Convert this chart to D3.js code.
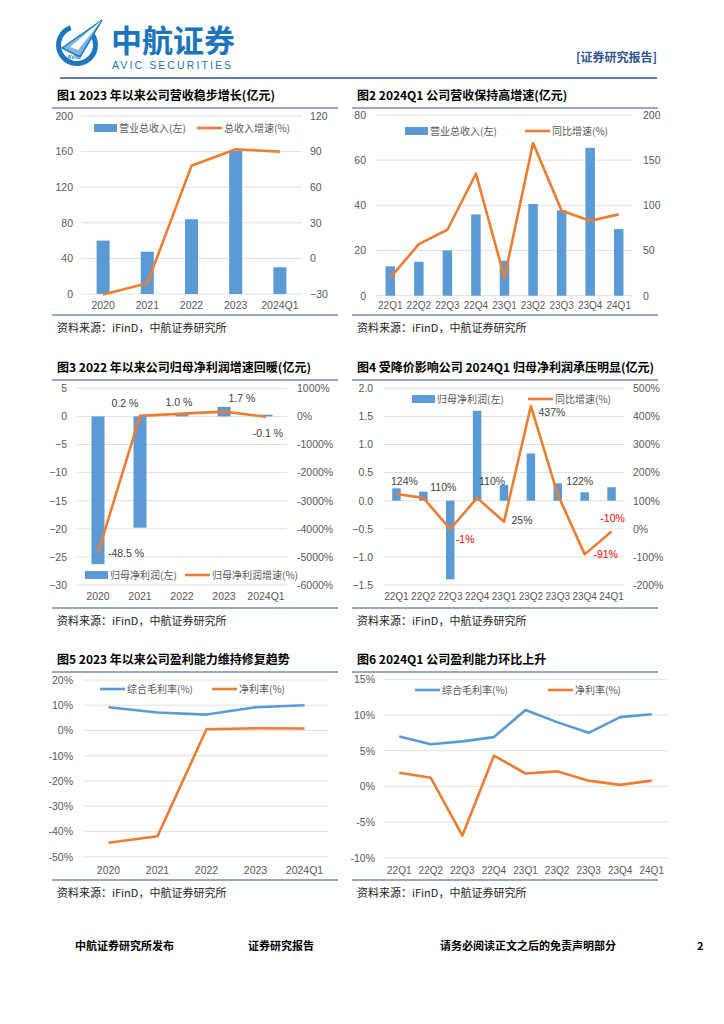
<!DOCTYPE html>
<meta charset="utf-8">
<style>
body { margin: 0; background: white; }
text { font-family: "Liberation Sans", Arial, sans-serif; }
.cn { font-family: "Noto Sans CJK SC", sans-serif; }
</style>
<body>
<script src="https://cdn.jsdelivr.net/npm/d3@7"></script>
<script>
// --- data ---
var years = ['2020', '2021', '2022', '2023', '2024Q1']
var quarters = ['22Q1', '22Q2', '22Q3', '22Q4', '23Q1', '23Q2', '23Q3', '23Q4', '24Q1']

var revenueYear = [60, 47.5, 84, 161, 30]
var revenueYearGrowth = [-30.5, -21, 78, 92, 90]

var revenueQtr = [13, 15, 20, 36, 15.5, 40.6, 37.8, 65.5, 29.5]
var revenueQtrGrowth = [20, 57, 73, 135, 20, 169, 94, 83, 90]

var profitYear = [-26.3, -19.8, 0.4, 1.7, 0.3]
var profitYearGrowth = [-4850, 20, 100, 170, -10]
var profitYearLabels = ['-48.5 %', '0.2 %', '1.0 %', '1.7 %', '-0.1 %']

var profitQtr = [0.22, 0.16, -1.4, 1.6, 0.28, 0.84, 0.31, 0.15, 0.24]
var profitQtrGrowth = [124, 110, -1, 110, 25, 437, 122, -91, -10]

var grossYear = [9.2, 7.1, 6.3, 9.2, 10.0]
var netYear = [-44.5, -41.9, 0.5, 0.9, 0.8]

var grossQtr = [7.0, 5.9, 6.3, 6.9, 10.7, 9.0, 7.5, 9.7, 10.1]
var netQtr = [1.9, 1.2, -6.9, 4.3, 1.8, 2.1, 0.8, 0.2, 0.8]

var blue = '#5b9bd5'
var orange = '#ed7d31'
var navy = '#2f5597'
var tickGrey = '#595959'

var svg = d3.select('body').append('svg')
    .attr('width', 724)
    .attr('height', 1024)

// --- header ---
var logo = svg.append('g')
logo.append('path')
    .attr('transform', 'translate(77,45)')
    .attr('d', d3.arc().innerRadius(16).outerRadius(21).startAngle(0.9).endAngle(2 * Math.PI - 0.35)())
    .attr('fill', '#1a78c2')
logo.append('path')
    .attr('d', 'M62,48 L102,20 L80,57 Z')
    .attr('fill', '#7fb6e0')
    .attr('stroke', '#1a78c2')
    .attr('stroke-width', 1.5)
logo.append('path')
    .attr('d', 'M70,47 L102,20 L78,50 Z')
    .attr('fill', 'white')
logo.append('text')
    .attr('x', 74).attr('y', 59)
    .attr('text-anchor', 'middle')
    .attr('font-size', 6).attr('font-weight', 'bold')
    .attr('fill', '#1a78c2')
    .text('AVIC')

svg.append('text').attr('class', 'cn')
    .attr('x', 111).attr('y', 52)
    .attr('font-size', 31).attr('font-weight', 'bold')
    .attr('fill', '#1b75bc')
    .text('中航证券')
svg.append('text')
    .attr('x', 112).attr('y', 69)
    .attr('font-size', 10.5)
    .attr('letter-spacing', 2.1)
    .attr('fill', '#1b75bc')
    .text('AVIC SECURITIES')
svg.append('text').attr('class', 'cn')
    .attr('x', 657).attr('y', 62)
    .attr('text-anchor', 'end')
    .attr('font-size', 12).attr('font-weight', 'bold')
    .attr('fill', navy)
    .text('[证券研究报告]')
svg.append('line')
    .attr('x1', 60).attr('x2', 657).attr('y1', 78).attr('y2', 78)
    .attr('stroke', navy).attr('stroke-width', 1.5)

// --- panel frames ---
function frame(x0, x1, titleY, bottomY, title) {
    svg.append('text').attr('class', 'cn')
        .attr('x', x0 + 5).attr('y', titleY)
        .attr('font-size', 12).attr('font-weight', 'bold')
        .text(title)
    svg.append('line')
        .attr('x1', x0).attr('x2', x1).attr('y1', titleY + 8).attr('y2', titleY + 8)
        .attr('stroke', navy).attr('stroke-width', 1.2)
    svg.append('line')
        .attr('x1', x0).attr('x2', x1).attr('y1', bottomY).attr('y2', bottomY)
        .attr('stroke', navy).attr('stroke-width', 1.2)
    svg.append('text').attr('class', 'cn')
        .attr('x', x0 + 5).attr('y', bottomY + 17)
        .attr('font-size', 11).attr('fill', '#222')
        .text('资料来源：iFinD，中航证券研究所')
}

function panel(o) {
    var g = svg.append('g')
    var x = d3.scaleBand().domain(o.cats).range(o.xr)
    var cx = function (d, i) { return x(o.cats[i]) + x.bandwidth() / 2 }
    var yl = d3.scaleLinear().domain(o.ld).range(o.yr)
    var yr = o.rd ? d3.scaleLinear().domain(o.rd).range(o.yr) : null

    g.selectAll('.grid').data(o.lt).enter().append('line')
        .attr('x1', o.xr[0]).attr('x2', o.xr[1])
        .attr('y1', yl).attr('y2', yl)
        .attr('stroke', '#d9d9d9').attr('stroke-width', 0.8)

    g.append('g')
        .attr('transform', 'translate(' + o.lx + ',0)')
        .call(d3.axisLeft(yl).tickValues(o.lt).tickSize(0).tickPadding(0).tickFormat(o.lf))
    if (yr) {
        g.append('g')
            .attr('transform', 'translate(' + o.rx + ',0)')
            .call(d3.axisRight(yr).tickValues(o.rt).tickSize(0).tickPadding(0).tickFormat(o.rf))
    }
    g.selectAll('.tick text').attr('font-size', 10.5).attr('fill', tickGrey)
    g.append('g')
        .attr('transform', 'translate(0,' + o.xy + ')')
        .call(d3.axisBottom(x).tickSize(0).tickPadding(0))
        .selectAll('.tick text').attr('font-size', o.cats.length > 5 ? 10 : 10.5).attr('fill', tickGrey)
    g.selectAll('.domain').remove()

    if (o.bars) {
        g.selectAll('.bar').data(o.bars).enter().append('rect')
            .attr('x', function (d, i) { return cx(d, i) - o.bw / 2 })
            .attr('y', function (d) { return yl(Math.max(0, d)) })
            .attr('width', o.bw)
            .attr('height', function (d) { return Math.abs(yl(d) - yl(0)) })
            .attr('fill', blue)
    }

    o.lines.forEach(function (l) {
        var sc = l.right ? yr : yl
        g.append('path').datum(l.v)
            .attr('d', d3.line().x(cx).y(function (d) { return sc(d) }))
            .attr('fill', 'none')
            .attr('stroke', l.color)
            .attr('stroke-width', 2.6)
            .attr('stroke-linejoin', 'round')
    })

    // legend
    o.legend.forEach(function (e) {
        if (e.bar) {
            g.append('rect').attr('x', e.x).attr('y', o.ly - 4).attr('width', 23).attr('height', 8).attr('fill', blue)
        } else {
            g.append('line').attr('x1', e.x).attr('x2', e.x + 25).attr('y1', o.ly).attr('y2', o.ly)
                .attr('stroke', e.color).attr('stroke-width', 2.6)
        }
        g.append('text').attr('class', 'cn')
            .attr('x', e.x + (e.bar ? 25 : 27)).attr('y', o.ly + 4)
            .attr('font-size', 10).attr('fill', tickGrey)
            .text(e.text)
    })

    return { x: x, cx: cx, yl: yl, yr: yr, g: g }
}

// --- figure 1 ---
frame(52, 338, 100, 315, '图1  2023 年以来公司营收稳步增长(亿元)')
panel({
    cats: years, xr: [81, 302], yr: [294, 116],
    ld: [0, 200], lt: d3.range(0, 201, 40), lf: d3.format('d'), lx: 73,
    rd: [-30, 120], rt: d3.range(-30, 121, 30), rf: d3.format('d'), rx: 310,
    xy: 302, bars: revenueYear, bw: 13,
    lines: [{ v: revenueYearGrowth, color: orange, right: true }],
    ly: 128,
    legend: [{ bar: true, x: 94, text: '营业总收入(左)' }, { x: 197, color: orange, text: '总收入增速(%)' }]
})

// --- figure 2 ---
frame(352, 658, 100, 315, '图2  2024Q1 公司营收保持高增速(亿元)')
panel({
    cats: quarters, xr: [376, 633], yr: [295.7, 115],
    ld: [0, 80], lt: d3.range(0, 81, 20), lf: d3.format('d'), lx: 366,
    rd: [0, 200], rt: d3.range(0, 201, 50), rf: d3.format('d'), rx: 643,
    xy: 302, bars: revenueQtr, bw: 9.5,
    lines: [{ v: revenueQtrGrowth, color: orange, right: true }],
    ly: 131,
    legend: [{ bar: true, x: 405, text: '营业总收入(左)' }, { x: 525, color: orange, text: '同比增速(%)' }]
})

// --- figure 3 ---
frame(52, 338, 372, 608, '图3  2022 年以来公司归母净利润增速回暖(亿元)')
var p3 = panel({
    cats: years, xr: [77, 287], yr: [585, 388.3],
    ld: [-30, 5], lt: d3.range(-30, 6, 5), lf: d3.format('d'), lx: 67,
    rd: [-6000, 1000], rt: d3.range(-6000, 1001, 1000), rf: function (d) { return d + '%' }, rx: 297,
    xy: 593, bars: profitYear, bw: 13,
    lines: [{ v: profitYearGrowth, color: orange, right: true }],
    ly: 575,
    legend: [{ bar: true, x: 85, text: '归母净利润(左)' }, { x: 185, color: orange, text: '归母净利润增速(%)' }]
})
var off3 = [[28, 4], [-15, -9], [-3, -8], [18, -10], [2, 20]]
p3.g.selectAll('.lab').data(profitYearGrowth).enter().append('text')
    .attr('x', function (d, i) { return p3.cx(d, i) + off3[i][0] })
    .attr('y', function (d, i) { return p3.yr(d) + off3[i][1] })
    .attr('text-anchor', 'middle')
    .attr('font-size', 10.5).attr('fill', '#404040')
    .text(function (d, i) { return profitYearLabels[i] })

// --- figure 4 ---
frame(352, 658, 372, 608, '图4  受降价影响公司 2024Q1 归母净利润承压明显(亿元)')
var p4 = panel({
    cats: quarters, xr: [383, 625], yr: [585, 388.3],
    ld: [-1.5, 2], lt: d3.range(-1.5, 2.01, 0.5), lf: d3.format('.1f'), lx: 373,
    rd: [-200, 500], rt: d3.range(-200, 501, 100), rf: function (d) { return d + '%' }, rx: 633,
    xy: 593, bars: profitQtr, bw: 8.5,
    lines: [{ v: profitQtrGrowth, color: orange, right: true }],
    ly: 399,
    legend: [{ bar: true, x: 412, text: '归母净利润(左)' }, { x: 528, color: orange, text: '同比增速(%)' }]
})
var off4 = [[8, -9], [20, -7], [15, 14], [15, -13], [18, 2], [21, 10], [22, -10], [21, 4], [1, -10]]
p4.g.selectAll('.lab').data(profitQtrGrowth).enter().append('text')
    .attr('x', function (d, i) { return p4.cx(d, i) + off4[i][0] })
    .attr('y', function (d, i) { return p4.yr(d) + off4[i][1] })
    .attr('text-anchor', 'middle')
    .attr('font-size', 10.5)
    .attr('fill', function (d) { return d < 0 ? '#ff0000' : '#404040' })
    .text(function (d) { return d + '%' })

// --- figure 5 ---
frame(52, 338, 664, 880, '图5  2023 年以来公司盈利能力维持修复趋势')
panel({
    cats: years, xr: [84, 329], yr: [856.7, 680],
    ld: [-50, 20], lt: d3.range(-50, 21, 10), lf: function (d) { return d + '%' }, lx: 73,
    xy: 867,
    lines: [{ v: grossYear, color: blue }, { v: netYear, color: orange }],
    ly: 689,
    legend: [{ x: 100, color: blue, text: '综合毛利率(%)' }, { x: 212, color: orange, text: '净利率(%)' }]
})

// --- figure 6 ---
frame(352, 658, 664, 880, '图6  2024Q1 公司盈利能力环比上升')
panel({
    cats: quarters, xr: [383.5, 667.5], yr: [857.7, 679.3],
    ld: [-10, 15], lt: d3.range(-10, 16, 5), lf: function (d) { return d + '%' }, lx: 375,
    xy: 867,
    lines: [{ v: grossQtr, color: blue }, { v: netQtr, color: orange }],
    ly: 690,
    legend: [{ x: 415, color: blue, text: '综合毛利率(%)' }, { x: 548, color: orange, text: '净利率(%)' }]
})

// --- footer ---
var foot = [['中航证券研究所发布', 75], ['证券研究报告', 248], ['请务必阅读正文之后的免责声明部分', 440], ['2', 697]]
svg.selectAll('.foot').data(foot).enter().append('text').attr('class', 'cn')
    .attr('x', function (d) { return d[1] }).attr('y', 950)
    .attr('font-size', 11).attr('font-weight', 'bold')
    .text(function (d) { return d[0] })
</script>
</body>
